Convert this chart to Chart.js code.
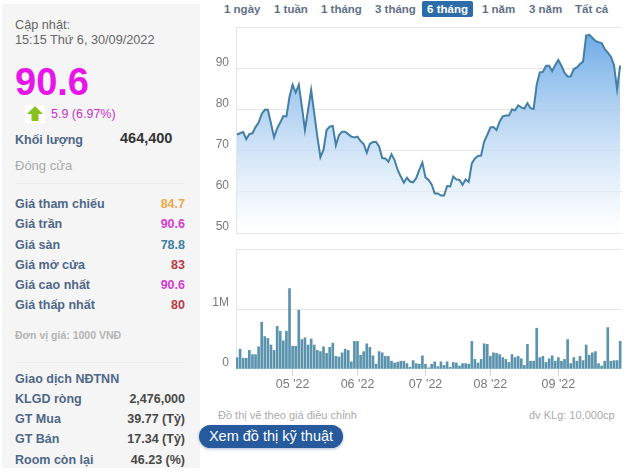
<!DOCTYPE html>
<html>
<head>
<meta charset="utf-8">
<script src="https://cdn.jsdelivr.net/npm/chart.js@4"></script>
<style>
html,body{margin:0;padding:0;background:#fff;width:630px;height:474px;overflow:hidden}
body{font-family:"Liberation Sans",Arial,sans-serif;position:relative}
.t{position:absolute;white-space:nowrap;line-height:16px;height:16px}
#panel{position:absolute;left:2px;top:4px;width:198px;height:464px;background:#f5f5f5}
.hr{position:absolute;left:15px;width:170px;height:1px;background:#ececec}
.lb{left:15px;font-size:12.5px;font-weight:bold;color:#4f6788}
.val{right:445px;font-size:12.5px;font-weight:bold}
.tab{font-size:11.5px;font-weight:bold;color:#5f7188;top:1px}
#active{position:absolute;left:422px;top:1px;width:51px;height:16px;line-height:16px;text-align:center;background:#2c6ca8;color:#fff;font-size:11.5px;font-weight:bold;border-radius:2px}
#tech{position:absolute;left:199px;top:425px;width:144px;height:23px;line-height:23px;text-align:center;background:#265a9c;color:#fff;font-size:14.5px;border-radius:12px;box-shadow:0 1px 3px rgba(40,80,140,.4)}
canvas{position:absolute}
#priceWrap{position:absolute;left:205px;top:20px;width:425px;height:220px}
#volWrap{position:absolute;left:205px;top:240px;width:425px;height:155px}
</style>
</head>
<body>
<div id="panel"></div>
<div class="t" style="left:15px;top:17px;font-size:12.7px;color:#666">Cập nhật:</div>
<div class="t" style="left:15px;top:32px;font-size:12.7px;color:#666">15:15 Thứ 6, 30/09/2022</div>
<div class="t" style="left:15px;top:74px;font-size:38px;font-weight:bold;color:#e815e8">90.6</div>
<svg style="position:absolute;left:25px;top:105px" width="20" height="18"><rect width="20" height="18" fill="#fff"/><path d="M10 1 L18 9 L13.5 9 L13.5 16 L6.5 16 L6.5 9 L2 9 Z" fill="#86c11f"/></svg>
<div class="t" style="left:51px;top:106px;font-size:12.5px;color:#c832c8">5.9 (6.97%)</div>
<div class="t lb" style="top:132px">Khối lượng</div>
<div class="t" style="left:120px;top:130px;font-size:14.5px;font-weight:bold;color:#333">464,400</div>
<div class="t" style="left:15px;top:158px;font-size:13px;color:#aaa">Đóng cửa</div>
<div class="hr" style="top:183px"></div>
<div class="t lb" style="top:196px">Giá tham chiếu</div><div class="t val" style="top:196px;color:#eba94a">84.7</div>
<div class="t lb" style="top:216px">Giá trần</div><div class="t val" style="top:216px;color:#d23cd2">90.6</div>
<div class="t lb" style="top:237px">Giá sàn</div><div class="t val" style="top:237px;color:#3f7f9f">78.8</div>
<div class="t lb" style="top:257px">Giá mở cửa</div><div class="t val" style="top:257px;color:#b53a45">83</div>
<div class="t lb" style="top:277px">Giá cao nhất</div><div class="t val" style="top:277px;color:#d23cd2">90.6</div>
<div class="t lb" style="top:297px">Giá thấp nhất</div><div class="t val" style="top:297px;color:#b53a45">80</div>
<div class="t" style="left:15px;top:327px;font-size:10.5px;font-weight:bold;color:#b4b4b4">Đơn vị giá: 1000 VNĐ</div>
<div class="hr" style="top:362px"></div>
<div class="t lb" style="top:371px">Giao dịch NĐTNN</div>
<div class="t lb" style="top:391px">KLGD ròng</div><div class="t val" style="top:391px;color:#484848">2,476,000</div>
<div class="t lb" style="top:411px">GT Mua</div><div class="t val" style="top:411px;color:#484848">39.77 (Tỷ)</div>
<div class="t lb" style="top:431px">GT Bán</div><div class="t val" style="top:431px;color:#484848">17.34 (Tỷ)</div>
<div class="t lb" style="top:452px">Room còn lại</div><div class="t val" style="top:452px;color:#484848">46.23 (%)</div>

<div class="t tab" style="left:224px">1 ngày</div>
<div class="t tab" style="left:274px">1 tuần</div>
<div class="t tab" style="left:321px">1 tháng</div>
<div class="t tab" style="left:375px">3 tháng</div>
<div id="active">6 tháng</div>
<div class="t tab" style="left:482px">1 năm</div>
<div class="t tab" style="left:529px">3 năm</div>
<div class="t tab" style="left:575px">Tất cả</div>

<div id="priceWrap"><canvas id="priceChart"></canvas></div>
<div id="volWrap"><canvas id="volChart"></canvas></div>

<div class="t" style="left:218px;top:407px;font-size:11px;color:#aaa">Đồ thị vẽ theo giá điều chỉnh</div>
<div class="t" style="left:529px;top:407px;font-size:11px;color:#aaa">đv KLg: 10,000cp</div>
<div id="tech">Xem đồ thị kỹ thuật</div>

<script>
const prices=[73.9,74.2,74.5,72.8,74.0,74.2,75.7,76.8,78.9,79.9,79.9,76.6,73.2,75.4,76.8,78.4,78.3,83.1,86.0,84.1,
86.0,80.7,75.0,79.9,84.7,79.1,73.4,68.4,70.2,75.0,75.8,76.0,71.3,73.8,74.6,74.6,74.0,73.4,73.2,73.4,
72.3,71.6,69.5,71.6,72.1,72.1,71.0,68.2,68.1,67.3,69.1,67.7,65.3,63.7,62.2,63.4,62.5,62.3,63.3,65.3,
67.1,63.5,62.9,61.8,59.6,59.6,59.1,59.1,61.4,61.3,63.7,63.0,62.9,61.7,63.0,62.4,66.9,68.1,68.7,68.8,
72.2,73.8,75.6,75.7,75.0,77.0,78.3,78.5,78.5,80.0,79.8,81.0,80.5,80.2,81.5,80.3,80.1,86.0,89.0,89.1,
90.6,90.6,89.3,90.8,92.0,90.6,88.9,88.0,88.0,89.8,90.2,91.0,91.6,97.9,98.1,97.4,96.6,96.3,96.1,94.7,
93.8,92.8,90.8,84.9,90.6];
const volumes=[190000,330000,180000,180000,310000,240000,240000,370000,780000,540000,510000,400000,310000,710000,630000,470000,630000,1340000,380000,380000,
980000,490000,520000,400000,500000,400000,310000,290000,370000,260000,360000,430000,210000,200000,270000,330000,310000,120000,460000,460000,
230000,290000,420000,360000,220000,80000,290000,270000,210000,210000,130000,100000,110000,130000,130000,90000,30000,140000,90000,80000,
220000,80000,20000,80000,120000,40000,120000,60000,120000,30000,110000,100000,50000,90000,90000,80000,460000,160000,100000,160000,
420000,410000,210000,270000,260000,240000,190000,160000,110000,240000,190000,210000,170000,60000,410000,130000,130000,680000,190000,210000,
110000,170000,220000,130000,190000,130000,160000,490000,90000,190000,130000,210000,140000,400000,230000,270000,290000,90000,50000,130000,
690000,130000,140000,140000,460000];
const tickIndex=[18,39,61,82,104];
const tickLabels=["05 '22","06 '22","07 '22","08 '22","09 '22"];
const priceTicks=[50,60,70,80,90,100];
const volumeTicks=[0,1000000,2000000];

Chart.defaults.font.family='"Liberation Sans",Arial,sans-serif';
Chart.defaults.animation=false;
Chart.defaults.responsive=false;
Chart.defaults.maintainAspectRatio=false;

function sizeCanvas(id){
    const c=document.getElementById(id);
    c.width=c.parentNode.clientWidth;
    c.height=c.parentNode.clientHeight;
    c.style.width=c.width+'px';
    c.style.height=c.height+'px';
    return c;
}

// y axis: fixed width, no extra room for the labels that sit above the grid lines
function fitY(s){
    s.width=31;
    s.paddingTop=0;
    s.paddingBottom=0;
}

const gridColor='#e6e6e6';
const xRange={min:-0.32,max:124.6};

new Chart(sizeCanvas('priceChart'),{
    type:'line',
    data:{
        datasets:[{
            data:prices.map((p,i)=>({x:i,y:p})),
            borderColor:'#447fa6',
            borderWidth:2,
            pointRadius:0,
            tension:0,
            fill:'start',
            backgroundColor:function(ctx){
                const area=ctx.chart.chartArea;
                if(!area) return 'transparent';
                const g=ctx.chart.ctx.createLinearGradient(0,area.top+5,0,area.bottom);
                g.addColorStop(0,'rgba(108,170,230,1)');
                g.addColorStop(1,'rgba(255,255,255,0.6)');
                return g;
            },
        }],
    },
    options:{
        layout:{autoPadding:false,padding:{left:0,right:8,top:7,bottom:7}},
        plugins:{legend:{display:false},tooltip:{enabled:false}},
        scales:{
            x:{type:'linear',display:false,min:xRange.min,max:xRange.max},
            y:{
                min:50,max:100,
                afterFit:fitY,
                afterBuildTicks:function(s){s.ticks=priceTicks.map(v=>({value:v}));},
                grid:{color:gridColor,drawTicks:false},
                border:{color:gridColor},
                ticks:{
                    align:'end',padding:7,color:'#7a7a7a',font:{size:12},
                    callback:function(v){return v===100?'':String(v);},
                },
            },
        },
    },
});

new Chart(sizeCanvas('volChart'),{
    type:'bar',
    data:{
        datasets:[{
            data:volumes.map((v,i)=>({x:i,y:v})),
            backgroundColor:'#5b93ad',
            barThickness:2,
        }],
    },
    options:{
        layout:{autoPadding:false,padding:{left:0,right:8,top:9,bottom:0}},
        plugins:{legend:{display:false},tooltip:{enabled:false}},
        scales:{
            x:{
                type:'linear',min:xRange.min,max:xRange.max,offset:false,
                afterFit:function(s){s.height=26;},
                afterBuildTicks:function(s){s.ticks=tickIndex.map(v=>({value:v}));},
                grid:{offset:false,drawOnChartArea:false,tickLength:7,tickColor:'#d4d4d4'},
                border:{display:false},
                ticks:{
                    color:'#7a7a7a',font:{size:12.5},padding:1,maxRotation:0,autoSkip:false,
                    callback:function(v){return tickLabels[tickIndex.indexOf(v)];},
                },
            },
            y:{
                min:0,max:2000000,
                afterFit:fitY,
                afterBuildTicks:function(s){s.ticks=volumeTicks.map(v=>({value:v}));},
                grid:{drawTicks:false,color:function(c){return c.tick.value===0?'transparent':gridColor;}},
                border:{color:gridColor},
                ticks:{
                    align:'end',padding:7,color:'#7a7a7a',font:{size:12},
                    callback:function(v){return v===1000000?'1M':(v===0?'0':'');},
                },
            },
        },
    },
});
</script>
</body>
</html>
